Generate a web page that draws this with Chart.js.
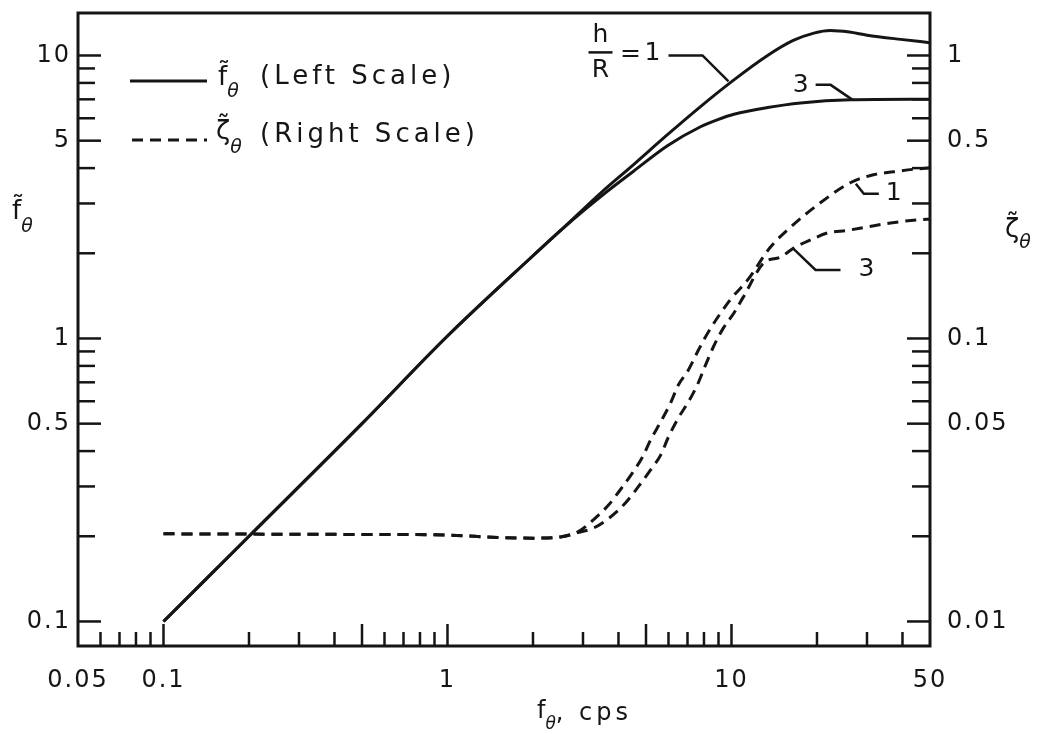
<!DOCTYPE html>
<html><head><meta charset="utf-8">
<script src="https://cdn.jsdelivr.net/npm/chart.js@4.4.1/dist/chart.umd.min.js"></script>
<style>html,body{margin:0;padding:0;background:#fff;}#wrap{width:1039px;height:734px;}</style>
</head><body><div id="wrap"><canvas id="c" width="1039" height="734"></canvas></div>
<script>
// ---- data ----
const freqSolid1 = [0.1, 0.2, 0.5, 1, 2, 2.56, 3.5, 4.5, 5.95, 7.78, 10.2, 13.4, 16.5, 19.5, 22.3, 26, 30, 39.4, 50];
const fTilde1    = [0.1, 0.2, 0.5, 1.02, 1.96, 2.46, 3.3, 4.1, 5.25, 6.6, 8.2, 10.0, 11.3, 12.0, 12.25, 12.1, 11.8, 11.4, 11.1];
const freqSolid3 = [0.1, 0.2, 0.5, 1, 2, 2.56, 3.5, 4.52, 5.95, 7.78, 9.0, 10.2, 13.4, 17.5, 26.2, 50];
const fTilde3    = [0.1, 0.2, 0.5, 1.02, 1.96, 2.46, 3.2, 3.9, 4.8, 5.6, 5.95, 6.2, 6.55, 6.8, 6.97, 7.0];
const freqDash1  = [0.1, 0.5, 1, 1.5, 2, 2.5, 2.87, 3.27, 3.69, 4.06, 4.48, 4.86, 5.19, 5.63, 6.1, 6.5, 7.05, 7.65, 8.29, 9.9, 11.4, 13.7, 16.2, 20.5, 26.2, 31.6, 37.2, 44.6, 50];
const zeta1      = [0.0204, 0.0203, 0.0202, 0.0198, 0.0197, 0.0199, 0.0207, 0.0229, 0.0258, 0.0292, 0.0335, 0.0381, 0.0438, 0.0507, 0.0591, 0.0685, 0.0774, 0.091, 0.1054, 0.137, 0.161, 0.21, 0.248, 0.301, 0.355, 0.379, 0.388, 0.397, 0.401];
const freqDash3  = [0.1, 0.5, 1, 1.5, 2, 2.5, 2.87, 3.27, 3.75, 4.23, 4.67, 5.19, 5.63, 6.0, 6.5, 7.05, 7.58, 8.1, 8.63, 9.37, 10.2, 11.0, 13.0, 14.9, 16.6, 19.0, 21.8, 25.6, 30.1, 36.3, 46.4, 50];
const zeta3      = [0.0204, 0.0203, 0.0202, 0.0198, 0.0197, 0.0199, 0.0206, 0.0214, 0.0234, 0.0262, 0.0297, 0.0343, 0.0387, 0.0449, 0.0524, 0.0597, 0.0685, 0.0805, 0.0933, 0.109, 0.123, 0.14, 0.185, 0.194, 0.209, 0.223, 0.236, 0.241, 0.248, 0.256, 0.263, 0.264];

const xTickLabels     = [0.05, 0.1, 1, 10, 50];
const leftTickLabels  = [0.1, 0.5, 1, 5, 10];
const rightTickLabels = [0.01, 0.05, 0.1, 0.5, 1];
const xMajorMarks  = [0.1, 0.5, 1, 5, 10];
const xMinorMarks  = [0.06, 0.07, 0.08, 0.09, 0.2, 0.3, 0.4, 0.6, 0.7, 0.8, 0.9, 2, 3, 4, 6, 7, 8, 9, 20, 30, 40];
const lMajorMarks  = [0.1, 0.5, 1, 5, 10];
const lMinorMarks  = [0.2, 0.3, 0.4, 0.6, 0.7, 0.8, 0.9, 2, 3, 4, 6, 7, 8, 9];
const rMajorMarks  = [0.01, 0.05, 0.1, 0.5, 1];
const rMinorMarks  = [0.02, 0.03, 0.04, 0.06, 0.07, 0.08, 0.09, 0.2, 0.3, 0.4, 0.6, 0.7, 0.8, 0.9];

const seriesNames = ['f̃θ (Left Scale)', 'ζ̃θ (Right Scale)'];

const INK = '#151515';
const FONT = '"DejaVu Sans", "Liberation Sans", sans-serif';

function pts(xs, ys){ return xs.map((x,i)=>({x:x, y:ys[i]})); }
function fmt(v){ return String(v); }

const spacingPlugin = {
  id: 'spacing',
  beforeDraw(chart){ chart.ctx.letterSpacing = '2px'; }
};

const decoPlugin = {
  id: 'deco',
  afterDraw(chart){
    const ctx = chart.ctx, a = chart.chartArea;
    const X = chart.scales.x, L = chart.scales.yL, R = chart.scales.yR;
    ctx.save();
    ctx.strokeStyle = INK; ctx.fillStyle = INK; ctx.lineCap = 'butt';
    // frame
    ctx.lineWidth = 3;
    ctx.strokeRect(a.left, a.top, a.right - a.left, a.bottom - a.top);
    // inward tick marks
    ctx.lineWidth = 2.5;
    const line = (x1,y1,x2,y2)=>{ctx.beginPath();ctx.moveTo(x1,y1);ctx.lineTo(x2,y2);ctx.stroke();};
    xMajorMarks.forEach(v=>{const p=X.getPixelForValue(v); line(p,a.bottom,p,a.bottom-22);});
    xMinorMarks.forEach(v=>{const p=X.getPixelForValue(v); line(p,a.bottom,p,a.bottom-14);});
    lMajorMarks.forEach(v=>{const p=L.getPixelForValue(v); line(a.left,p,a.left+23,p);});
    lMinorMarks.forEach(v=>{const p=L.getPixelForValue(v); line(a.left,p,a.left+17,p);});
    rMajorMarks.forEach(v=>{const p=R.getPixelForValue(v); line(a.right,p,a.right-23,p);});
    rMinorMarks.forEach(v=>{const p=R.getPixelForValue(v); line(a.right,p,a.right-18,p);});

    ctx.textBaseline = 'middle'; ctx.textAlign = 'left';
    const txt = (s, x, y, size, italic, align, sp)=>{
      ctx.font = (italic?'italic ':'') + size + 'px ' + FONT;
      ctx.letterSpacing = (sp || 0) + 'px';
      ctx.textAlign = align || 'left';
      ctx.fillText(s, x, y);
      return ctx.measureText(s).width;
    };
    // legend
    ctx.lineWidth = 3;
    ctx.setLineDash([]);
    line(130, 81, 207, 81);
    ctx.setLineDash([11, 7]);
    line(132, 140, 207, 140);
    ctx.setLineDash([]);
    let w = txt('f̃', 218, 78, 26);
    txt('θ', 218 + w, 92, 19, true);
    txt('(Left Scale)', 260, 77, 26, false, 'left', 4);
    w = txt('ζ̃', 216, 132, 26);
    txt('θ', 216 + w, 148, 19, true);
    txt('(Right Scale)', 260, 135, 26, false, 'left', 4);

    // axis titles
    w = txt('f̃', 12, 212, 26);
    txt('θ', 12 + w, 227, 19, true);
    w = txt('ζ̃', 1005, 230, 26);
    txt('θ', 1005 + w, 243, 19, true);
    w = txt('f', 537, 712, 24);
    let w2 = txt('θ', 537 + w, 725, 17, true);
    txt(', cps', 537 + w + w2, 714, 24, false, 'left', 4);

    // curve annotations
    ctx.lineWidth = 2.5;
    const poly = (x0,y0,arr)=>{ctx.beginPath();ctx.moveTo(x0,y0);arr.forEach(p=>ctx.lineTo(x0+p[0],y0+p[1]));ctx.stroke();};
    // h/R = 1 on solid curve
    let ax = X.getPixelForValue(9.76), ay = L.getPixelForValue(8.1);
    poly(ax, ay, [[-26,-26],[-60,-26]]);
    txt('1', ax-76, ay-28, 25, false, 'center');
    txt('=', ax-98, ay-27, 25, false, 'center');
    txt('h', ax-128, ay-46, 25, false, 'center');
    line(ax-140, ay-29, ax-116, ay-29);
    txt('R', ax-128, ay-11, 25, false, 'center');
    // 3 on solid curve
    ax = X.getPixelForValue(26.7); ay = L.getPixelForValue(6.97);
    poly(ax, ay, [[-22,-15],[-37,-15]]);
    txt('3', ax-52, ay-14, 25, false, 'center');
    // 1 on dashed curve
    ax = X.getPixelForValue(27.4); ay = R.getPixelForValue(0.352);
    poly(ax, ay, [[8,10],[23,10]]);
    txt('1', ax+38, ay+10, 25, false, 'center');
    // 3 on dashed curve
    ax = X.getPixelForValue(16.4); ay = R.getPixelForValue(0.209);
    poly(ax, ay, [[23,22],[48,22]]);
    txt('3', ax+74, ay+22, 25, false, 'center');
    ctx.restore();
  }
};

const lineStyle = {borderColor: INK, borderWidth: 3, pointRadius: 0, fill: false, cubicInterpolationMode: 'monotone'};
const noPad = s => { s.paddingTop = 0; s.paddingBottom = 0; s.paddingLeft = 0; s.paddingRight = 0; };

new Chart(document.getElementById('c'), {
  type: 'line',
  data: {
    datasets: [
      Object.assign({label: seriesNames[0] + ' h/R=1', data: pts(freqSolid1, fTilde1), yAxisID: 'yL'}, lineStyle),
      Object.assign({label: seriesNames[0] + ' h/R=3', data: pts(freqSolid3, fTilde3), yAxisID: 'yL'}, lineStyle),
      Object.assign({label: seriesNames[1] + ' h/R=1', data: pts(freqDash1, zeta1), yAxisID: 'yR', borderDash: [11, 7]}, lineStyle),
      Object.assign({label: seriesNames[1] + ' h/R=3', data: pts(freqDash3, zeta3), yAxisID: 'yR', borderDash: [11, 7]}, lineStyle)
    ]
  },
  options: {
    responsive: false, animation: false, devicePixelRatio: 1,
    layout: {padding: {top: 13, left: 0, right: 0, bottom: 0}},
    plugins: {legend: {display: false}, tooltip: {enabled: false}},
    scales: {
      x: {
        type: 'logarithmic', position: 'bottom', min: 0.05, max: 50,
        afterBuildTicks: s => { s.ticks = xTickLabels.map(v => ({value: v})); },
        afterFit: s => { s.height = 88; noPad(s); },
        grid: {display: false, drawTicks: false}, border: {display: false},
        ticks: {callback: v => fmt(v), autoSkip: false, maxRotation: 0, padding: 20, color: INK, font: {family: FONT, size: 24}}
      },
      yL: {
        type: 'logarithmic', position: 'left', min: 0.0819, max: 14.13,
        afterBuildTicks: s => { s.ticks = leftTickLabels.map(v => ({value: v})); },
        afterFit: s => { s.width = 78; noPad(s); },
        grid: {display: false, drawTicks: false}, border: {display: false},
        ticks: {callback: v => fmt(v), autoSkip: false, padding: 7, color: INK, font: {family: FONT, size: 24}}
      },
      yR: {
        type: 'logarithmic', position: 'right', min: 0.00819, max: 1.413,
        afterBuildTicks: s => { s.ticks = rightTickLabels.map(v => ({value: v})); },
        afterFit: s => { s.width = 109; noPad(s); },
        grid: {display: false, drawTicks: false}, border: {display: false},
        ticks: {callback: v => fmt(v), autoSkip: false, padding: 17, color: INK, font: {family: FONT, size: 24}}
      }
    }
  },
  plugins: [spacingPlugin, decoPlugin]
});
</script></body></html>
